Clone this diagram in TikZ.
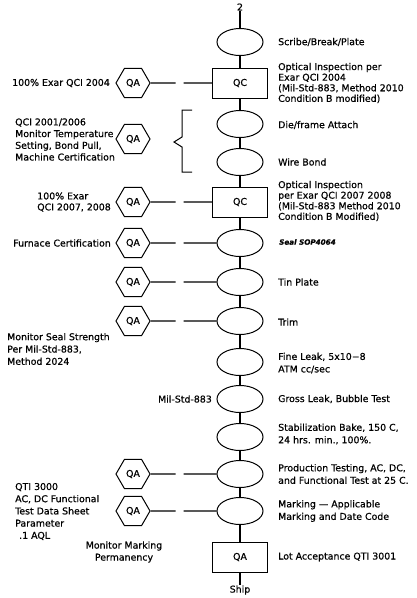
\documentclass[tikz,border=0pt]{standalone}
\usepackage{fontspec}
\setmainfont{DejaVu Sans}[FakeBold=0.6]
\usetikzlibrary{shapes.geometric}
\begin{document}
\begin{tikzpicture}[x=1pt,y=-1pt,
  txt/.style={inner sep=0pt, font=\fontsize{9.4}{11}\selectfont, align=left},
  rt/.style={txt, anchor=west},
  lt/.style={txt, anchor=east},
  proc/.style={draw, ellipse, line width=1pt, minimum width=46pt, minimum height=27pt, inner sep=0pt},
  qcbox/.style={draw, rectangle, line width=1pt, minimum width=55pt, minimum height=30pt, inner sep=0pt, font=\fontsize{9.4}{11}\selectfont},
  qahex/.style={draw, regular polygon, regular polygon sides=6, minimum size=34pt, inner sep=0pt, line width=1pt, font=\fontsize{9.4}{11}\selectfont},
  col/.style={line width=1.6pt},
  link/.style={line width=1.2pt, dash pattern=on 25pt off 8pt on 400pt},
  brace/.style={line width=1pt}
]
\useasboundingbox (0,0) rectangle (416,598);

% main column
\node[txt] (top) at (240,7) {2};
\node[proc] (e1) at (240,42) {};
\node[qcbox] (qc1) at (240,83) {QC};
\node[proc] (e2) at (240,124) {};
\node[proc] (e3) at (240,162) {};
\node[qcbox] (qc2) at (240,202) {QC};
\node[proc] (e4) at (240,243) {};
\node[proc] (e5) at (240,282) {};
\node[proc] (e6) at (240,321) {};
\node[proc] (e7) at (240,362) {};
\node[proc] (e8) at (240,399) {};
\node[proc] (e9) at (240,437) {};
\node[proc] (e10) at (240,474) {};
\node[proc] (e11) at (240,511) {};
\node[qcbox] (qa) at (240,557) {QA};
\node[txt] (ship) at (240,590) {Ship};

\foreach \a/\b in {top/e1,e1/qc1,qc1/e2,e2/e3,e3/qc2,qc2/e4,e4/e5,e5/e6,e6/e7,e7/e8,e8/e9,e9/e10,e10/e11,e11/qa,qa/ship}
  \draw[col] (\a) -- (\b);

% right texts
\node[rt] (r1) at (278,42) {Scribe/Break/Plate};
\node[rt,font=\fontsize{9.4}{10.6}\selectfont] (r2) at (278,83) {Optical Inspection per\\Exar QCI 2004\\(Mil-Std-883, Method 2010\\Condition B modified)};
\node[rt] (r3) at (278,125) {Die/frame Attach};
\node[rt] (r4) at (278,162) {Wire Bond};
\node[rt,font=\fontsize{9.4}{10.6}\selectfont] (r5) at (278,201) {Optical Inspection\\per Exar QCI 2007 2008\\(Mil-Std-883 Method 2010\\Condition B Modified)};
\node[rt,font=\fontsize{7.2}{9}\selectfont\bfseries\itshape] (r6) at (279,242) {Seal SOP4064};
\node[rt] (r7) at (278,282) {Tin Plate};
\node[rt] (r8) at (278,322) {Trim};
\node[rt,font=\fontsize{9.4}{12.5}\selectfont] (r9) at (278,363) {Fine Leak, 5x10−8\\ATM cc/sec};
\node[rt] (r10) at (278,399) {Gross Leak, Bubble Test};
\node[rt,font=\fontsize{9.4}{12.5}\selectfont] (r11) at (278,434) {Stabilization Bake, 150 C,\\24 hrs. min., 100\%.};
\node[rt,font=\fontsize{9.4}{12.5}\selectfont] (r12) at (278,474) {Production Testing, AC, DC,\\and Functional Test at 25 C.};
\node[rt,font=\fontsize{9.4}{12.5}\selectfont] (r13) at (278,511) {Marking — Applicable\\Marking and Date Code};
\node[rt] (r14) at (278,557) {Lot Acceptance QTI 3001};

% QA hexagons
\node[qahex] (h1) at (133,83) {QA};
\node[qahex] (h2) at (133,139) {QA};
\node[qahex] (h3) at (133,202) {QA};
\node[qahex] (h4) at (133,243) {QA};
\node[qahex] (h5) at (133,282) {QA};
\node[qahex] (h6) at (133,321) {QA};
\node[qahex] (h7) at (133,474) {QA};
\node[qahex] (h8) at (133,511) {QA};

\draw[link] (h1.east) -- (qc1.west);
\draw[link] (h3.east) -- (qc2.west);
\draw[link] (h4.east) -- (e4.west);
\draw[link] (h5.east) -- (e5.west);
\draw[link] (h6.east) -- (e6.west);
\draw[link] (h7.east) -- (e10.west);
\draw[link] (h8.east) -- (e11.west);

% bracket
\draw[brace] (192,110) -- (182,110) -- (182,137) -- (174,142) -- (182,147) -- (182,172) -- (192,172);

% left texts
\node[lt] (l1) at (110,83) {100\% Exar QCI 2004};
\node[txt,anchor=west,font=\fontsize{9.4}{11.7}\selectfont] (l2) at (15,139.5) {QCI 2001/2006\\Monitor Temperature\\Setting, Bond Pull,\\Machine Certification};
\node[lt] (l3) at (111,202) {100\% Exar\\QCI 2007, 2008};
\node[lt] (l4) at (111,243) {Furnace Certification};
\node[txt,anchor=west,font=\fontsize{9.4}{12.3}\selectfont] (l5) at (7,349) {Monitor Seal Strength\\Per Mil-Std-883,\\Method 2024};
\node[lt] (l6) at (212,399) {Mil-Std-883};
\node[txt,anchor=west,font=\fontsize{9.4}{12.2}\selectfont] (l7) at (15,511.5) {QTI 3000\\AC, DC Functional\\Test Data Sheet\\Parameter\\\hspace{4pt}.1 AQL};
\node[txt,align=center,font=\fontsize{9.4}{12}\selectfont] (l8) at (124,552) {Monitor Marking\\Permanency};
\end{tikzpicture}
\end{document}
